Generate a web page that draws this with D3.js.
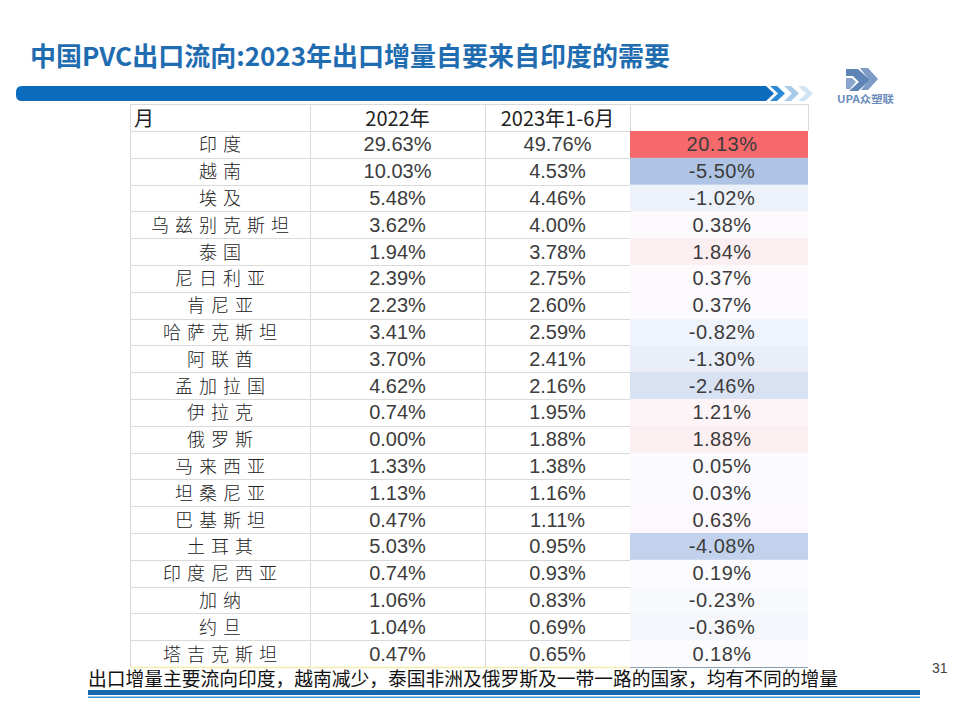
<!DOCTYPE html>
<html><head><meta charset="utf-8">
<script src="https://cdn.jsdelivr.net/npm/d3@7/dist/d3.min.js"></script>
<style>
html,body{margin:0;padding:0;background:#fff;}
svg{display:block;}
</style></head>
<body>
<svg id="c" width="960" height="720"></svg>
<script>
const title = "中国PVC出口流向:2023年出口增量自要来自印度的需要";
const footnote = "出口增量主要流向印度，越南减少，泰国非洲及俄罗斯及一带一路的国家，均有不同的增量";
const pageNo = "31";
const headers = ["月", "2022年", "2023年1-6月", ""];
const countries = ["印度","越南","埃及","乌兹别克斯坦","泰国","尼日利亚","肯尼亚","哈萨克斯坦","阿联酋","孟加拉国","伊拉克","俄罗斯","马来西亚","坦桑尼亚","巴基斯坦","土耳其","印度尼西亚","加纳","约旦","塔吉克斯坦"];
const share2022 = [29.63,10.03,5.48,3.62,1.94,2.39,2.23,3.41,3.70,4.62,0.74,0.00,1.33,1.13,0.47,5.03,0.74,1.06,1.04,0.47];
const share2023 = [49.76,4.53,4.46,4.00,3.78,2.75,2.60,2.59,2.41,2.16,1.95,1.88,1.38,1.16,1.11,0.95,0.93,0.83,0.69,0.65];
const change = [20.13,-5.50,-1.02,0.38,1.84,0.37,0.37,-0.82,-1.30,-2.46,1.21,1.88,0.05,0.03,0.63,-4.08,0.19,-0.23,-0.36,0.18];

const svg = d3.select("#c");
const fmt = v => v.toFixed(2) + "%";

// Title
svg.append("text").attr("x", 30).attr("y", 66)
  .attr("font-family", "'Noto Sans CJK SC', sans-serif").attr("font-weight", 700)
  .attr("font-size", 26).attr("fill", "#1f6db0").text(title);

// Blue header bar with chevrons
svg.append("path").attr("d", "M22,86 H766 L774,93.5 L766,101 H22 Q16,101 16,95 V92 Q16,86 22,86 Z").attr("fill", "#0b6bbd");
const chev = (x, w, col) => svg.append("path")
  .attr("d", `M${x},86 H${x+w} L${x+w+8},93.5 L${x+w},101 H${x} L${x+8},93.5 Z`).attr("fill", col);
chev(770, 7, "#2a8ad6");
chev(784, 7, "#a9cbea");
chev(798, 7, "#d3e4f3");

// Logo
const logo = svg.append("g");
logo.append("path").attr("d", "M846,69 H858 L870,80 L858,91 H849 L859,82 L853,76 H846 Z").attr("fill", "#5f84b6");
logo.append("path").attr("d", "M860,68 H868 L878,79 L868,90 H861 L869,80 Z").attr("fill", "#7d9bc6");
logo.append("path").attr("d", "M846,78 L852,78 L856,82 L850,89 L846,89 Z").attr("fill", "#8aa6cd");
svg.append("text").attr("x", 837).attr("y", 103)
  .attr("font-family", "'Noto Sans CJK SC', sans-serif").attr("font-weight", 700)
  .attr("font-size", 10.5).attr("fill", "#6a8cbb").attr("textLength", 57).attr("lengthAdjust", "spacingAndGlyphs")
  .text("UPA众塑联");

// Table layout
const colEdges = [130, 310, 485, 630, 808];
const colCenter = i => (colEdges[i] + colEdges[i+1]) / 2;
const headTop = 104, bodyTop = 131, bodyBottom = 667;
const y = d3.scaleBand().domain(countries).range([bodyTop, bodyBottom]);

const color = d3.scaleLinear()
  .domain([d3.min(change), d3.median(change), d3.max(change)])
  .range(["#afc4e5", "#fcfcff", "#f8696b"]);

const grid = svg.append("g").attr("stroke", "#dadada").attr("stroke-width", 1);

// colored cells col4
svg.append("g").selectAll("rect").data(countries).join("rect")
  .attr("x", colEdges[3]).attr("y", d => y(d))
  .attr("width", colEdges[4] - colEdges[3]).attr("height", y.bandwidth() + 0.5)
  .attr("fill", (d, i) => color(change[i]));

// horizontal grid lines cols 1-3
const hl = [headTop, bodyTop].concat(countries.map(d => y(d) + y.bandwidth()));
grid.selectAll("line.h").data(hl.slice(0, -1)).join("line")
  .attr("x1", colEdges[0]).attr("x2", colEdges[3])
  .attr("y1", d => Math.round(d) + 0.5).attr("y2", d => Math.round(d) + 0.5);
grid.append("line").attr("x1", colEdges[3]).attr("x2", colEdges[4]).attr("y1", headTop + 0.5).attr("y2", headTop + 0.5);
grid.append("line").attr("x1", colEdges[4] + 0.5).attr("x2", colEdges[4] + 0.5).attr("y1", headTop).attr("y2", bodyTop);
grid.selectAll("line.v").data(colEdges.slice(0, 4)).join("line")
  .attr("x1", d => d + 0.5).attr("x2", d => d + 0.5).attr("y1", headTop).attr("y2", bodyBottom);
svg.append("line").attr("x1", colEdges[0]).attr("x2", colEdges[3]).attr("y1", bodyBottom + 0.5).attr("y2", bodyBottom + 0.5)
  .attr("stroke", "#f3ecb0").attr("stroke-width", 1.5);
svg.append("line").attr("x1", colEdges[3]).attr("x2", colEdges[4]).attr("y1", bodyBottom + 0.5).attr("y2", bodyBottom + 0.5)
  .attr("stroke", "#8a9bb0").attr("stroke-width", 1);

// header texts
const headY = 126;
svg.append("text").attr("x", 134).attr("y", headY)
  .attr("font-family", "'Noto Sans CJK SC', sans-serif").attr("font-size", 20).attr("fill", "#222").text(headers[0]);
[1, 2].forEach(i => svg.append("text").attr("x", colCenter(i)).attr("y", headY).attr("text-anchor", "middle")
  .attr("font-family", "'Noto Sans CJK SC', sans-serif").attr("font-size", 20).attr("fill", "#222").text(headers[i]));

// body texts
const rows = svg.append("g");
const numStyle = sel => sel.attr("font-family", "'Liberation Sans', Arial, sans-serif").attr("font-size", 20)
  .attr("fill", "#3c3c3c").attr("text-anchor", "middle");
rows.selectAll("text.c").data(countries).join("text")
  .attr("x", colCenter(0) + 3).attr("y", d => y(d) + y.bandwidth() / 2 + 7)
  .attr("text-anchor", "middle").attr("letter-spacing", 6)
  .attr("font-family", "'Noto Sans CJK SC', sans-serif").attr("font-weight", 300)
  .attr("font-size", 18).attr("fill", "#222").text(d => d);
rows.selectAll("text.a").data(countries).join("text").call(numStyle)
  .attr("x", colCenter(1)).attr("y", d => y(d) + y.bandwidth() / 2 + 7)
  .text((d, i) => fmt(share2022[i]));
rows.selectAll("text.b").data(countries).join("text").call(numStyle)
  .attr("x", colCenter(2)).attr("y", d => y(d) + y.bandwidth() / 2 + 7)
  .text((d, i) => fmt(share2023[i]));
rows.selectAll("text.d").data(countries).join("text").call(numStyle)
  .attr("x", colCenter(3) + 3).attr("y", d => y(d) + y.bandwidth() / 2 + 7)
  .attr("letter-spacing", 0.5)
  .text((d, i) => fmt(change[i]));

// footnote
svg.append("text").attr("x", 88).attr("y", 686)
  .attr("font-family", "'Noto Sans CJK SC', sans-serif").attr("font-size", 19)
  .attr("fill", "#111").attr("textLength", 750).attr("lengthAdjust", "spacingAndGlyphs").text(footnote);
svg.append("text").attr("x", 932).attr("y", 673)
  .attr("font-family", "'Liberation Sans', Arial, sans-serif").attr("font-size", 14)
  .attr("fill", "#444").text(pageNo);

// bottom double line
svg.append("rect").attr("x", 88).attr("y", 690).attr("width", 832).attr("height", 5).attr("fill", "#1768ad");
svg.append("rect").attr("x", 88).attr("y", 696.5).attr("width", 832).attr("height", 1.5).attr("fill", "#3a8fd0");
</script>
</body></html>
